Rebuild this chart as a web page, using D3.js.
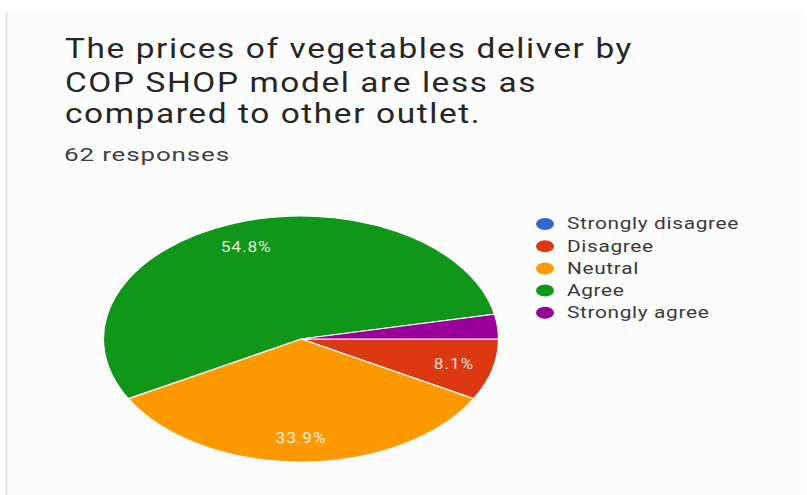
<!DOCTYPE html>
<html>
<head>
<meta charset="utf-8">
<script src="https://cdn.jsdelivr.net/npm/d3@7"></script>
<style>
  html, body { margin: 0; padding: 0; background: #ffffff; }
  svg { display: block; }
</style>
</head>
<body>
<svg id="chart" width="807" height="495"></svg>
<script>
// Survey answers
const categories = ["Strongly disagree", "Disagree", "Neutral", "Agree", "Strongly agree"];
const counts = [0, 5, 21, 34, 2];
const colors = ["#3366cc", "#dc3912", "#ff9900", "#109618", "#990099"];
const titleLines = [
  "The prices of vegetables deliver by",
  "COP SHOP model are less as",
  "compared to other outlet."
];
const subtitle = "62 responses";

const svg = d3.select("#chart");
const W = 807, H = 495;

// card background
svg.append("rect").attr("x", 0).attr("y", 0).attr("width", W).attr("height", H).attr("fill", "#ffffff");
svg.append("rect").attr("x", 6).attr("y", 12).attr("width", W - 8).attr("height", H - 12).attr("fill", "#fcfcfc");
svg.append("line").attr("x1", 6.5).attr("x2", 6.5).attr("y1", 12).attr("y2", H)
  .attr("stroke", "#d9d9d9").attr("stroke-width", 1.5);

// stretch a text element horizontally about its anchor so it spans `w` pixels
function stretchTo(sel, w, anchorX) {
  const len = sel.node().getComputedTextLength();
  const s = w / len;
  sel.attr("transform", `translate(${anchorX},0) scale(${s},1) translate(${-anchorX},0)`);
  return s;
}
function stretchBy(sel, s, anchorX) {
  sel.attr("transform", `translate(${anchorX},0) scale(${s},1) translate(${-anchorX},0)`);
}

// title
const titleG = svg.append("g");
const titleBase = [58, 92, 123];
const tx = 65;
let titleScale = 1;
titleLines.forEach((t, i) => {
  const el = titleG.append("text")
    .attr("x", tx).attr("y", titleBase[i])
    .attr("font-family", "Roboto, sans-serif")
    .attr("font-size", 27)
    .attr("letter-spacing", "1.3px")
    .attr("fill", "#262626")
    .text(t);
  if (i === 0) titleScale = stretchTo(el, 568, tx);
  else stretchBy(el, titleScale, tx);
});

const sub = svg.append("text")
  .attr("x", 64).attr("y", 161)
  .attr("font-family", "Roboto, sans-serif")
  .attr("font-size", 18)
  .attr("letter-spacing", "0.6px")
  .attr("fill", "#3c4043")
  .text(subtitle);
stretchTo(sub, 166, 64);

// pie (drawn as a circle, squashed into an ellipse)
const cx = 301, cy = 339, rx = 197.5, ry = 123;
const R = ry, sx = rx / ry;
const total = d3.sum(counts);
const data = categories.map((c, i) => ({ name: c, value: counts[i], color: colors[i] }));

const pie = d3.pie().sort(null).value(d => d.value)
  .startAngle(Math.PI / 2).endAngle(Math.PI / 2 + 2 * Math.PI);
const arcs = pie(data).filter(a => a.data.value > 0);
const arc = d3.arc().innerRadius(0).outerRadius(R);
const labelArc = d3.arc().innerRadius(R * 0.8).outerRadius(R * 0.8);

const pieG = svg.append("g").attr("transform", `translate(${cx},${cy}) scale(${sx},1)`);
pieG.selectAll("path").data(arcs).join("path")
  .attr("d", arc)
  .attr("fill", d => d.data.color)
  .attr("stroke", "#ffffff")
  .attr("stroke-width", 1.2)
  .attr("vector-effect", "non-scaling-stroke");

const labelG = svg.append("g").attr("transform", `translate(${cx},${cy})`);
arcs.filter(a => a.data.value / total >= 0.05).forEach(a => {
  const [lx, ly] = labelArc.centroid(a);
  const x = lx * sx;
  const el = labelG.append("text")
    .attr("x", x).attr("y", ly + 5.5)
    .attr("text-anchor", "middle")
    .attr("font-family", "Roboto, sans-serif")
    .attr("font-size", 15.5)
    .attr("letter-spacing", "0.8px")
    .attr("fill", "#ffffff")
    .attr("fill-opacity", 0.88)
    .text((a.data.value / total * 100).toFixed(1) + "%");
  stretchBy(el, 1.12, x);
});

// legend
const legX = 545, legY = 224, legStep = 22.2;
const legG = svg.append("g");
let legScale = null;
data.forEach((d, i) => {
  const y = legY + i * legStep;
  legG.append("ellipse")
    .attr("cx", legX).attr("cy", y).attr("rx", 9).attr("ry", 6)
    .attr("fill", d.color);
  const el = legG.append("text")
    .attr("x", 567).attr("y", y + 5.5)
    .attr("font-family", "Roboto, sans-serif")
    .attr("font-size", 16)
    .attr("letter-spacing", "0.5px")
    .attr("fill", "#3a3a3a")
    .text(d.name);
  if (legScale === null) legScale = stretchTo(el, 172, 567);
  else stretchBy(el, legScale, 567);
});
</script>
</body>
</html>
